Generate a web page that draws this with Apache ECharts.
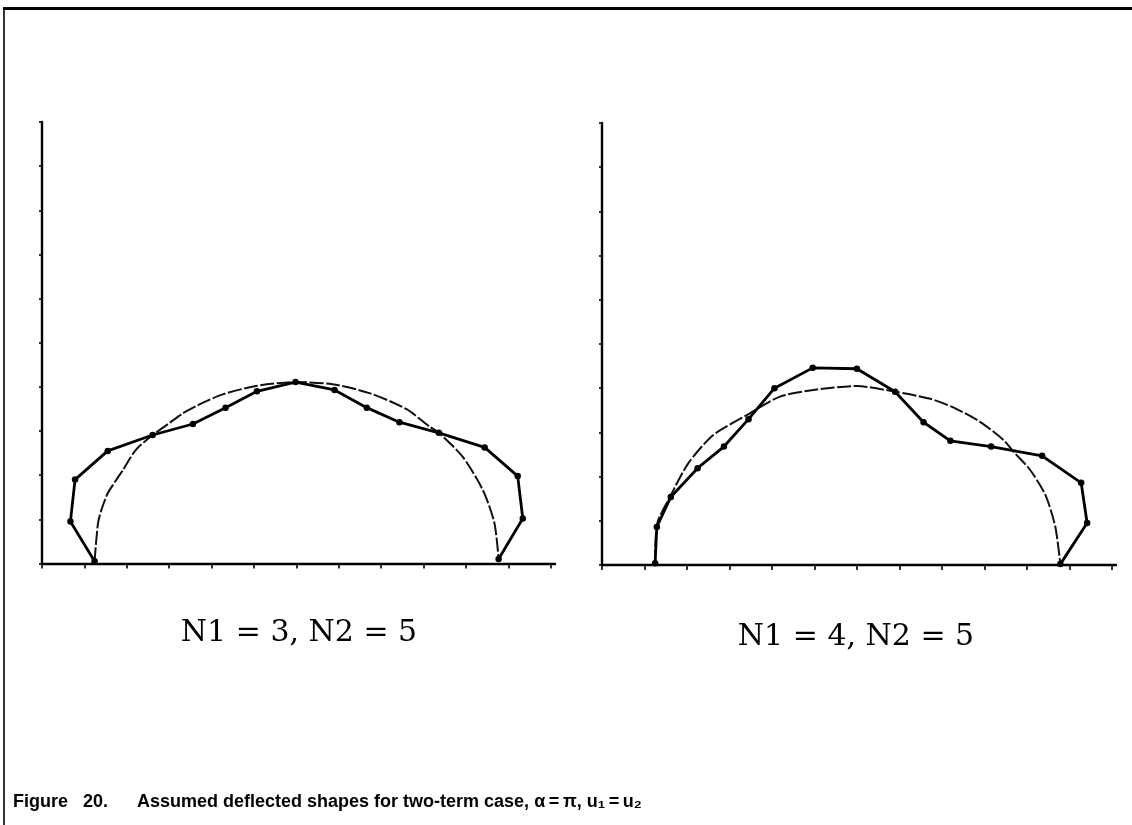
<!DOCTYPE html>
<html>
<head>
<meta charset="utf-8">
<script src="https://cdn.jsdelivr.net/npm/echarts@6/dist/echarts.min.js"></script>
<style>
  html, body { margin: 0; padding: 0; background: #fff; }
  #chart { width: 1132px; height: 825px; }
</style>
</head>
<body>
<div id="chart"></div>
<script>
// Tick positions shared by both panels
const xTicks = [0, 1, 2, 3, 4, 5, 6, 7, 8, 9, 10, 11, 12];
const yTicks = [0, 1, 2, 3, 4, 5, 6, 7, 8, 9, 10];

// Panel labels and caption
const panelLabels = ['N1 = 3, N2 = 5', 'N1 = 4, N2 = 5'];
const captionHead = 'Figure   20.';
const captionBody = 'Assumed deflected shapes for two-term case, \u03b1\u2009=\u2009\u03c0, u\u2081\u2009=\u2009u\u2082';

// Left panel (N1 = 3): assumed shape, node points
const leftShapeX = [1.24, 0.67, 0.78, 1.55, 2.61, 3.56, 4.33, 5.07, 5.98, 6.90, 7.66, 8.43, 9.36, 10.44, 11.22, 11.34, 10.77];
const leftShapeY = [0.05, 0.95, 1.90, 2.55, 2.91, 3.16, 3.53, 3.90, 4.11, 3.93, 3.53, 3.20, 2.96, 2.63, 1.98, 1.02, 0.10];
// Left panel: reference arch
const leftArcX = [1.24, 1.32, 1.40, 1.55, 1.75, 1.91, 2.21, 2.61, 3.02, 3.32, 3.75, 4.26, 5.05, 5.98, 6.85, 7.72, 8.59, 9.14, 9.36, 9.92, 10.40, 10.67, 10.77];
const leftArcY = [0.05, 0.91, 1.21, 1.59, 1.89, 2.12, 2.57, 2.91, 3.19, 3.40, 3.62, 3.83, 4.02, 4.11, 4.06, 3.86, 3.50, 3.10, 2.96, 2.42, 1.66, 0.92, 0.10];

// Right panel (N1 = 4): assumed shape, node points
const rightShapeX = [1.25, 1.29, 1.62, 2.25, 2.87, 3.45, 4.06, 4.96, 6.00, 6.90, 7.57, 8.20, 9.16, 10.36, 11.28, 11.42, 10.79];
const rightShapeY = [0.04, 0.86, 1.54, 2.19, 2.68, 3.30, 4.00, 4.46, 4.44, 3.92, 3.23, 2.81, 2.68, 2.47, 1.86, 0.95, 0.02];
// Right panel: reference arch
const rightArcX = [1.25, 1.30, 1.60, 2.03, 2.62, 3.41, 4.19, 5.06, 6.00, 6.90, 7.73, 8.28, 8.90, 9.45, 9.69, 10.08, 10.44, 10.67, 10.79];
const rightArcY = [0.04, 0.94, 1.54, 2.30, 2.94, 3.39, 3.81, 3.97, 4.05, 3.92, 3.76, 3.56, 3.24, 2.83, 2.56, 2.15, 1.58, 0.87, 0.02];

const zip = (xs, ys) => xs.map((x, i) => [x, ys[i]]);

const axisLineStyle = { lineStyle: { color: '#000', width: 2.4 } };

function xAxisFor(idx) {
  return {
    type: 'value', gridIndex: idx, min: 0, max: 12.1,
    axisLine: axisLineStyle,
    axisTick: { show: true, length: 5, customValues: xTicks, lineStyle: { color: '#000', width: 1.6 } },
    axisLabel: { show: false },
    splitLine: { show: false }
  };
}
function yAxisFor(idx) {
  return {
    type: 'value', gridIndex: idx, min: 0, max: 10,
    axisLine: axisLineStyle,
    axisTick: { show: true, length: 3, customValues: yTicks, lineStyle: { color: '#000', width: 1.6 } },
    axisLabel: { show: false },
    splitLine: { show: false }
  };
}

function shapeSeries(idx, xs, ys) {
  return {
    type: 'line', xAxisIndex: idx, yAxisIndex: idx,
    data: zip(xs, ys),
    symbol: 'circle', symbolSize: 6.5,
    itemStyle: { color: '#000' },
    lineStyle: { color: '#000', width: 2.8 },
    animation: false, silent: true, z: 3
  };
}
function arcSeries(idx, xs, ys) {
  return {
    type: 'line', xAxisIndex: idx, yAxisIndex: idx,
    data: zip(xs, ys),
    showSymbol: false, smooth: 0.25,
    lineStyle: { color: '#111', width: 2, type: [14, 2.5] },
    animation: false, silent: true, z: 2
  };
}

const chart = echarts.init(document.getElementById('chart'));
chart.setOption({
  backgroundColor: '#fff',
  animation: false,
  grid: [
    { left: 42, top: 122, width: 513, height: 441.5 },
    { left: 602, top: 123, width: 514, height: 442 }
  ],
  xAxis: [xAxisFor(0), xAxisFor(1)],
  yAxis: [yAxisFor(0), yAxisFor(1)],
  series: [
    arcSeries(0, leftArcX, leftArcY),
    shapeSeries(0, leftShapeX, leftShapeY),
    arcSeries(1, rightArcX, rightArcY),
    shapeSeries(1, rightShapeX, rightShapeY)
  ],
  graphic: [
    // page frame: top rule and left rule
    { type: 'line', shape: { x1: 3, y1: 8.5, x2: 1132, y2: 8.5 }, style: { stroke: '#000', lineWidth: 3 } },
    { type: 'line', shape: { x1: 4, y1: 7, x2: 4, y2: 825 }, style: { stroke: '#000', lineWidth: 1.6 } },
    // panel labels
    { type: 'text', x: 299, y: 633, style: { text: panelLabels[0], font: '30px "DejaVu Serif"', fill: '#000', align: 'center', verticalAlign: 'middle' } },
    { type: 'text', x: 856, y: 637, style: { text: panelLabels[1], font: '30px "DejaVu Serif"', fill: '#000', align: 'center', verticalAlign: 'middle' } },
    // caption
    { type: 'text', x: 13, y: 802, style: { text: captionHead, font: 'bold 18px "Liberation Sans", Arial', fill: '#000', align: 'left', verticalAlign: 'middle' } },
    { type: 'text', x: 137, y: 802, style: { text: captionBody, font: 'bold 18px "Liberation Sans", Arial', fill: '#000', align: 'left', verticalAlign: 'middle' } }
  ]
});
</script>
</body>
</html>
